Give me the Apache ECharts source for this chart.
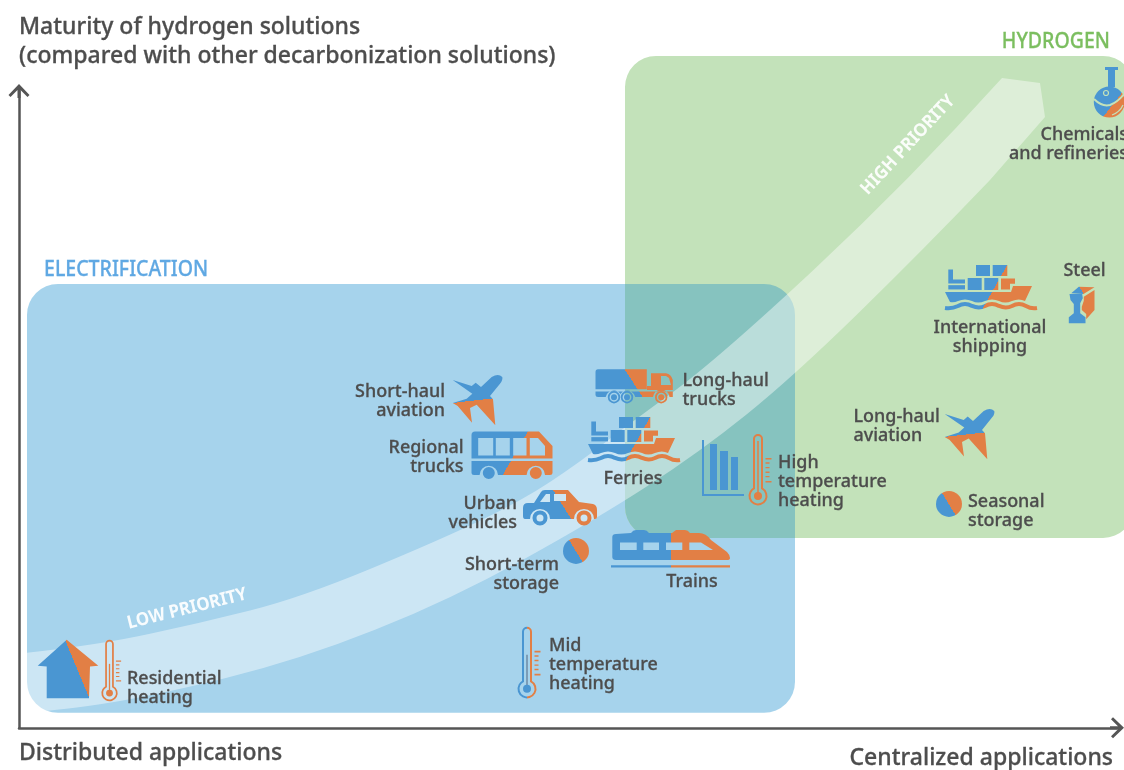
<!DOCTYPE html>
<html>
<head>
<meta charset="utf-8">
<title>Hydrogen priority map</title>
<script src="https://cdn.jsdelivr.net/npm/echarts@6/dist/echarts.min.js"></script>
<style>
  html, body { margin: 0; padding: 0; background: #fff; overflow: hidden; }
  #chart { width: 1124px; height: 770px; }
</style>
</head>
<body>
<div id="chart"></div>
<script>
// applications, x = how centralized, y = maturity
const appNames = [
  'Chemicals\nand refineries', 'Steel', 'International\nshipping', 'Long-haul\naviation',
  'Seasonal\nstorage', 'High\ntemperature\nheating', 'Long-haul\ntrucks', 'Ferries',
  'Short-haul\naviation', 'Regional\ntrucks', 'Urban\nvehicles', 'Short-term\nstorage',
  'Trains', 'Mid\ntemperature\nheating', 'Residential\nheating'
]
const appX = [1091, 1062, 972, 950, 930, 716, 615, 615, 458, 493, 541, 557, 652, 508, 49]
const appY = [636, 424, 440, 294, 224, 259, 342, 288, 328, 273, 220, 177, 179, 66, 59]
const appIcons = [
  'flask', 'beam', 'ship', 'plane', 'pie', 'chartThermo', 'truck', 'ship',
  'plane', 'bus', 'car', 'pie', 'train', 'midThermo', 'house'
]

const zoneNames = ['ELECTRIFICATION', 'HYDROGEN']
const zoneXMin = [8, 606]
const zoneXMax = [776, 1115]
const zoneYMin = [15, 190]
const zoneYMax = [444, 672]

// priority band edges
const bandTopX = [8, 81, 181, 281, 421, 504, 561, 606, 698, 891, 983]
const bandTopY = [75, 83, 105, 130, 188, 228, 266, 301, 368, 548, 650]
const bandTipX = [1021, 1026]
const bandTipY = [645, 611]
const bandBottomX = [971, 904, 774, 681, 576, 431, 281, 131, 31, 8]
const bandBottomY = [548, 478, 351, 276, 208, 128, 68, 31, 16, 16]

const priorityNames = ['LOW PRIORITY', 'HIGH PRIORITY']
const priorityX = [168, 889]
const priorityY = [119, 583]

const yAxisTitle = 'Maturity of hydrogen solutions\n(compared with other decarbonization solutions)'
const xAxisStart = 'Distributed applications'
const xAxisEnd = 'Centralized applications'

const FONT = '"Noto Sans", sans-serif'
const TEXT = '#4d4d4d'
const BLUE = '#4a96d2'
const ORANGE = '#e27f45'
const GREEN_BG = '#c3e2ba'
const zoneColors = ['#a6d3ec', GREEN_BG]
const zoneLabelColors = ['#5fa8e3', '#7bbe5f']
const OVERLAP = '#86c3bf'

// label offset from the icon centre, same order as appNames
const labelLayout = [
  [18, 52.5, 'right'], [3.5, -33, 'center'], [-1, 49, 'center'], [-115.5, -8, 'left'],
  [19, 7, 'left'], [43, 13, 'left'], [48.5, 4, 'left'], [-1, 39, 'center'],
  [-32, 1, 'right'], [-48.5, 2.5, 'right'], [-43, 5.5, 'right'], [-17, 23.5, 'right'],
  [21, 33, 'center'], [22, 2.5, 'left'], [59, 19.5, 'left']
]

// blue on one side of the line a-b, orange on the other
function split (ax, ay, bx, by) {
  const nx = by - ay
  const ny = ax - bx
  const len = Math.sqrt(nx * nx + ny * ny)
  const mx = (ax + bx) / 2
  const my = (ay + by) / 2
  const ux = nx / len * 100
  const uy = ny / len * 100
  return new echarts.graphic.LinearGradient(mx - ux, my - uy, mx + ux, my + uy, [
    { offset: 0, color: BLUE },
    { offset: 0.5, color: BLUE },
    { offset: 0.5, color: ORANGE },
    { offset: 1, color: ORANGE }
  ], true)
}

function box (x1, y1, x2, y2) {
  return `M${x1} ${y1}L${x2} ${y1}L${x2} ${y2}L${x1} ${y2}Z`
}
// opposite winding so it cuts a hole
function hole (x1, y1, x2, y2) {
  return `M${x1} ${y1}L${x1} ${y2}L${x2} ${y2}L${x2} ${y1}Z`
}
function disc (cx, cy, r) {
  return `M${cx - r} ${cy}A${r} ${r} 0 1 1 ${cx + r} ${cy}A${r} ${r} 0 1 1 ${cx - r} ${cy}Z`
}
function discHole (cx, cy, r) {
  return `M${cx - r} ${cy}A${r} ${r} 0 1 0 ${cx + r} ${cy}A${r} ${r} 0 1 0 ${cx - r} ${cy}Z`
}
function part (d, fill) {
  return { type: 'path', shape: { pathData: d }, style: { fill: fill } }
}
function line (d, stroke, width) {
  return { type: 'path', shape: { pathData: d }, style: { fill: 'none', stroke: stroke, lineWidth: width } }
}

function shipIcon () {
  const f = split(16.3, -23, -6, 16.5)
  return [
    part(box(-15, -23, -1, -12) + box(1.7, -23, 16.3, -12), f),
    part(box(-23.3, -10, -9.3, 2) + box(-6.7, -10, 7.3, 2), f),
    part('M10 -9.5L24 -9.5L24 -4.2L19 -4.2L19 1.5L10 1.5Z', f),
    part('M-42.7 -18.5L-38 -18.5L-38 -8.5L-26 -8.5L-26 -4.5L-42.7 -4.5Z', f),
    part(box(-42.7, -2.8, -26, 1.5), f),
    part('M-46 4L20 4L22 -2L41 -2L34 13Q28 10 21 13Q14 16 8 13Q1 10 -6 13Q-13 16 -19 13Q-26 10 -33 13Q-37 15 -41 14Z', f),
    line('M-46 20Q-39 21 -33 18Q-26 14 -19 18Q-12 21 -6 18Q1 14 8 18Q15 21 21 18Q28 14 35 18Q40 21 46 20', f, 4)
  ]
}

function planeIcon () {
  return [
    part('M-24.3 -20L-5.3 -14L-1.3 -17.3L4 -13L14.7 -23Q21.3 -27 25.3 -23Q26 -20 23 -16.3L13 -4L16 -0.7L18.3 25.3L-0.3 4.7L-7 8L-5 22.7L-19.3 6L-24.3 3L-10.3 -1.3L-4.7 -6.3Z',
      split(16, -1.5, -24.3, 3))
  ]
}

function busIcon () {
  const f = split(16, -23.5, -9, 19.5)
  return [
    part('M-40.5 -20Q-40.5 -23.5 -37 -23.5L27 -23.5L40.5 -9L40.5 3.5L-40.5 3.5Z' +
      hole(-33.8, -17, -18.8, 0.5) + hole(-16.2, -17, -2.2, 0.5) + hole(1.2, -17, 14.5, 0.5) +
      'M17.8 -17L17.8 0.5L33 0.5L33 -9L26 -17Z', f),
    part('M-40.5 6L40.5 6L40.5 18Q40.5 20 38 20L33 20A9 9 0 0 0 14.6 20L-14 20A9 9 0 0 0 -32.4 20L-38 20Q-40.5 20 -40.5 18Z', f),
    part(disc(-23.2, 18, 6) + disc(23.8, 18, 6), f)
  ]
}

function carIcon () {
  const f = split(-6.7, -17.5, 11.7, 12)
  return [
    part('M-37 0Q-37 -5 -32 -5L-26 -5L-19 -16Q-18 -18 -15 -18L8 -18L19 -6L33 -4Q37 -3 37 2L37 9Q37 11 35 11L34 11A10 10 0 0 0 14 11L-10 11A10 10 0 0 0 -30 11L-35 11Q-37 11 -37 8Z' +
      'M-14 -14L-20 -6L-10 -6L-10 -14Z' + hole(-6, -14, 6, -7), f),
    part(disc(-20, 10, 7.5) + discHole(-20, 10, 3.5) + disc(24, 10, 7.5) + discHole(24, 10, 3.5), f)
  ]
}

function truckIcon () {
  const f = split(-9.5, -16.7, 8.8, 11.3)
  const wheel = (x) => disc(x, 11.3, 6.2) + discHole(x, 11.3, 4.4) + disc(x, 11.3, 3)
  return [
    part('M-36 -16.7L12.8 -16.7L12.8 3.3L-38.5 3.3L-38.5 -14Q-38.5 -16.7 -36 -16.7Z', f),
    part('M17 -12.7L32 -12.7Q37 -12 38.8 -6L38.8 4L13 4L13 0L17 0Z' + 'M27 -10L27 -1L37 -1L35 -8L32 -10Z', ORANGE),
    part('M-38.5 5.5L38.8 5.5L38.8 11L35.5 11A8.3 8.3 0 0 0 19 11L1.2 11A8.3 8.3 0 0 0 -13.5 8A8.3 8.3 0 0 0 -28.3 11L-36 11Q-38.5 11 -38.5 9Z', f),
    part(wheel(-20) + wheel(-7), BLUE),
    part(wheel(27.2), ORANGE)
  ]
}

function trainIcon () {
  const f = split(0.3, -20, 0.3, 20)
  return [
    part('M-58.7 -12Q-58.7 -15 -55 -15L-40 -16Q-38 -19 -35 -19L-27 -19Q-24 -19 -22 -16L1 -16L5 -19L14 -19Q17 -19 19 -16L28 -16Q35 -16 40 -9L56 3Q59 6 59 9Q59 11 56 11L-55 11Q-58.7 11 -58.7 8Z' +
      hole(-51, -6.3, -34.3, 1) + hole(-27.7, -6.3, -12, 1) + hole(-5, -6.3, 11.3, 1) +
      'M18.3 -6.3L18.3 1L42 1L30 -6.3Z', f),
    part(box(-60, 16.3, 59, 18.7), f)
  ]
}

function pieIcon () {
  return [part(disc(0, 0, 13), split(-7, -11, 7, 12))]
}

function thermo (strokeFill, ballFill, stemTop, stemColor) {
  return [
    line('M-4 19.5L-4 -30A4 4 0 0 1 4 -30L4 19.5A8.5 8.5 0 1 1 -4 19.5Z', strokeFill, 2),
    line(`M0 ${stemTop}L0 27`, stemColor, 1.5),
    part(disc(0, 27, 4), ballFill),
    part(box(7.5, -11, 13.5, -9.4) + box(7.5, -6.6, 11.5, -5.2) + box(7.5, -2, 11.5, -0.6) +
      box(7.5, 2.6, 11.5, 4) + box(7.5, 7, 11.5, 8.4) + box(7.5, 12, 13.5, 13.6), ORANGE)
  ]
}

function chartThermoIcon () {
  return [
    line('M-32 -29L-32 26L9 26', BLUE, 2),
    part(box(-25, -25, -18, 21) + box(-15, -18, -7, 21) + box(-4, -12, 3, 21), BLUE),
    { type: 'group', x: 23, y: 0, children: thermo(ORANGE, ORANGE, -28, ORANGE) }
  ]
}

function midThermoIcon () {
  return thermo(split(0, -40, 0, 40), BLUE, -7, '#6d8aa6')
}

function houseIcon () {
  return [
    part('M-1.3 -29L30.3 -3L22 -2.3L21 29.3L-21.3 29.3L-21.3 -2.3L-30.3 -3Z', split(-3, -29, 21.3, 29.3)),
    { type: 'group', x: 41.5, y: 1, scaleX: 0.86, scaleY: 0.86, children: thermo(ORANGE, ORANGE, -7, ORANGE) }
  ]
}

function flaskIcon () {
  const f = split(15, -3, -7, 25)
  return [
    part(box(-5, -25, 8, -22), BLUE),
    part('M-2 -22L5 -22L5 -5L-2 -5Z', BLUE),
    part(disc(-0.7, 10, 15.5), f),
    line('M-16 7Q-8 15 0 13Q8 10 15 1', GREEN_BG, 2),
    line('M2 23Q10 20 13 13', GREEN_BG, 1.3),
    line(disc(-4, 1, 2.5), GREEN_BG, 1.2)
  ]
}

function beamIcon () {
  return [
    part('M-11.5 -10L1.2 -10L1.8 -5.7L-0.8 -0.7L-0.8 9.3L4.5 13.3L4.5 19.3L-12.2 19.3L-12.2 13.3L-7.2 9.3L-7.2 0L-10.5 -4Z', BLUE),
    part('M-9.8 -10.7L-2.2 -17.3L13.5 -16.7L2.5 -10Z', split(-2, -18, 2.5, -10)),
    part('M2.8 -7.3L13.5 -14L13.5 6L5.2 15.3L5.2 10L0.8 6L0.8 2.7L2.8 -3.3Z', ORANGE)
  ]
}

const iconBuilders = {
  ship: shipIcon,
  plane: planeIcon,
  bus: busIcon,
  car: carIcon,
  truck: truckIcon,
  train: trainIcon,
  pie: pieIcon,
  chartThermo: chartThermoIcon,
  midThermo: midThermoIcon,
  house: houseIcon,
  flask: flaskIcon,
  beam: beamIcon
}

function renderZone (params, api) {
  const a = api.coord([api.value(0), api.value(3)])
  const b = api.coord([api.value(1), api.value(2)])
  const i = params.dataIndex
  return {
    type: 'group',
    children: [
      {
        type: 'rect',
        shape: { x: a[0], y: a[1], width: b[0] - a[0], height: b[1] - a[1], r: 31 },
        style: { fill: zoneColors[i] }
      },
      {
        type: 'text',
        x: i === 0 ? a[0] + 17 : b[0] - 24,
        y: a[1] - 14,
        scaleX: 0.93,
        style: {
          text: zoneNames[i],
          fill: zoneLabelColors[i],
          stroke: zoneLabelColors[i],
          lineWidth: 0.3,
          fontFamily: FONT,
          fontSize: 21,
          fontWeight: 500,
          align: i === 0 ? 'left' : 'right',
          verticalAlign: 'middle'
        }
      }
    ]
  }
}

function renderOverlap (params, api) {
  const a = api.coord([zoneXMin[1], zoneYMax[0]])
  const b = api.coord([zoneXMax[0], zoneYMin[1]])
  return {
    type: 'rect',
    shape: { x: a[0], y: a[1], width: b[0] - a[0], height: b[1] - a[1], r: [0, 31, 0, 31] },
    style: { fill: OVERLAP }
  }
}

// quadratic curve through the midpoints, ends on the last point
function curveThrough (pts) {
  let d = ''
  for (let i = 1; i < pts.length - 1; i++) {
    const last = i === pts.length - 2
    const ex = last ? pts[i + 1][0] : (pts[i][0] + pts[i + 1][0]) / 2
    const ey = last ? pts[i + 1][1] : (pts[i][1] + pts[i + 1][1]) / 2
    d += `Q${pts[i][0]} ${pts[i][1]} ${ex} ${ey}`
  }
  return d
}

function renderBand (params, api) {
  const top = bandTopX.map((x, i) => api.coord([x, bandTopY[i]]))
  const tip = bandTipX.map((x, i) => api.coord([x, bandTipY[i]]))
  const bottom = bandBottomX.map((x, i) => api.coord([x, bandBottomY[i]]))
  const d = `M${top[0][0]} ${top[0][1]}` + curveThrough(top) +
    `L${tip[0][0]} ${tip[0][1]}L${tip[1][0]} ${tip[1][1]}L${bottom[0][0]} ${bottom[0][1]}` +
    curveThrough(bottom) + 'Z'
  return {
    type: 'path',
    shape: { pathData: d },
    style: { fill: 'rgba(255,255,255,0.43)' }
  }
}

function renderPriority (params, api) {
  const p = api.coord([api.value(0), api.value(1)])
  const i = params.dataIndex
  return {
    type: 'text',
    x: p[0],
    y: p[1],
    rotation: (i === 0 ? 14 : 47) * Math.PI / 180,
    scaleX: 0.94,
    style: {
      text: priorityNames[i],
      fill: 'rgba(255,255,255,0.92)',
      fontFamily: FONT,
      fontSize: 18,
      fontWeight: 'bold',
      align: 'center',
      verticalAlign: 'middle'
    }
  }
}

function renderApp (params, api) {
  const p = api.coord([api.value(0), api.value(1)])
  const i = params.dataIndex
  const lay = labelLayout[i]
  return {
    type: 'group',
    x: p[0],
    y: p[1],
    children: iconBuilders[appIcons[i]]().concat([{
      type: 'text',
      x: lay[0],
      y: lay[1],
      scaleX: 0.97,
      style: {
        text: appNames[i],
        fill: TEXT,
        stroke: TEXT,
        lineWidth: 0.3,
        fontFamily: FONT,
        fontSize: 18.5,
        fontWeight: 500,
        lineHeight: 19,
        align: lay[2],
        verticalAlign: 'middle'
      }
    }])
  }
}

const arrowHead = 'path://M10.5 0L21 11L19 13L12 6L12 14L9 14L9 6L2 13L0 11Z'
const axisLine = {
  show: true,
  symbol: ['none', arrowHead],
  symbolSize: [21, 14],
  lineStyle: { color: '#555', width: 2.5 }
}

const chart = echarts.init(document.getElementById('chart'))
chart.setOption({
  animation: false,
  backgroundColor: '#fff',
  textStyle: { fontFamily: FONT },
  grid: { left: 19, right: 7, top: 91, bottom: 42 },
  xAxis: {
    type: 'value',
    min: 0,
    max: 1098,
    splitLine: { show: false },
    axisTick: { show: false },
    axisLine: axisLine,
    axisLabel: {
      customValues: [0],
      formatter: () => xAxisStart,
      color: TEXT,
      textBorderColor: TEXT,
      textBorderWidth: 0.3,
      fontFamily: FONT,
      fontSize: 23,
      fontWeight: 500,
      align: 'left',
      margin: 14
    },
    name: xAxisEnd,
    nameLocation: 'end',
    nameGap: -4,
    nameMoveOverlap: false,
    nameTextStyle: {
      color: TEXT,
      textBorderColor: TEXT,
      textBorderWidth: 0.3,
      fontFamily: FONT,
      fontSize: 23,
      fontWeight: 500,
      align: 'right',
      verticalAlign: 'top',
      padding: [19, 0, 0, 0]
    }
  },
  yAxis: {
    type: 'value',
    min: 0,
    max: 637,
    splitLine: { show: false },
    axisTick: { show: false },
    axisLabel: { show: false },
    axisLine: axisLine,
    name: yAxisTitle,
    nameLocation: 'end',
    nameGap: 20,
    nameMoveOverlap: false,
    nameTextStyle: {
      color: TEXT,
      textBorderColor: TEXT,
      textBorderWidth: 0.3,
      fontFamily: FONT,
      fontSize: 23,
      fontWeight: 500,
      lineHeight: 29,
      align: 'left',
      verticalAlign: 'bottom'
    }
  },
  series: [
    {
      type: 'custom',
      name: 'zones',
      renderItem: renderZone,
      silent: true,
      z: 1,
      data: zoneNames.map((n, i) => [zoneXMin[i], zoneXMax[i], zoneYMin[i], zoneYMax[i]])
    },
    {
      type: 'custom',
      name: 'overlap',
      renderItem: renderOverlap,
      silent: true,
      z: 2,
      data: [[zoneXMin[1], zoneYMax[0]]]
    },
    {
      type: 'custom',
      name: 'band',
      renderItem: renderBand,
      silent: true,
      z: 3,
      data: [[bandTopX[0], bandTopY[0]]]
    },
    {
      type: 'custom',
      name: 'priority',
      renderItem: renderPriority,
      silent: true,
      z: 4,
      data: priorityNames.map((n, i) => [priorityX[i], priorityY[i]])
    },
    {
      type: 'custom',
      name: 'applications',
      renderItem: renderApp,
      silent: true,
      z: 5,
      data: appNames.map((n, i) => [appX[i], appY[i]])
    }
  ]
})
</script>
</body>
</html>
